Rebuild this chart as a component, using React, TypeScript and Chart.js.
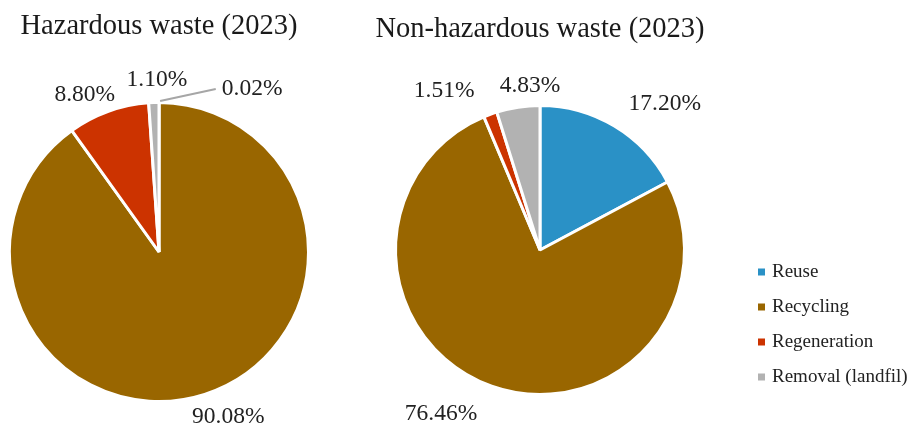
import React, { useEffect, useRef } from "react";
import { Chart, registerables } from "chart.js";

Chart.register(...registerables);

const categories = ["Reuse", "Recycling", "Regeneration", "Removal (landfil)"];
const hazardousValues = [0.02, 90.08, 8.8, 1.1];
const nonHazardousValues = [17.2, 76.46, 1.51, 4.83];
const chartTitles = ["Hazardous waste (2023)", "Non-hazardous waste (2023)"];
const sliceColors = ["#2A91C6", "#996600", "#CC3300", "#B2B2B2"];

const W = 914;
const H = 427;
const SERIF = '"Liberation Serif", "Times New Roman", serif';
const BORDER = 3;

type DecorCfg = {
  title: string;
  titleY: number;
  nudges: [number, number][];
  leaderIndex: number;
  legend: boolean;
};

function makeDecor(cfg: DecorCfg) {
  return {
    id: "pieDecor",
    afterDraw(chart: any) {
      const ctx: CanvasRenderingContext2D = chart.ctx;
      const meta = chart.getDatasetMeta(0);
      const values: number[] = chart.data.datasets[0].data;
      const cx = (chart.chartArea.left + chart.chartArea.right) / 2;
      ctx.save();
      // title
      ctx.fillStyle = "#1a1a1a";
      ctx.font = `28.5px ${SERIF}`;
      ctx.textAlign = "center";
      ctx.textBaseline = "alphabetic";
      ctx.fillText(cfg.title, cx, cfg.titleY);

      // labels
      const fs = 23.5;
      ctx.font = `${fs}px ${SERIF}`;
      ctx.textBaseline = "middle";
      meta.data.forEach((arc: any, i: number) => {
        const r = arc.outerRadius - BORDER / 2;
        const mid = (arc.startAngle + arc.endAngle) / 2;
        const ux = Math.cos(mid);
        const uy = Math.sin(mid);
        const text = values[i].toFixed(2) + "%";
        const tw = ctx.measureText(text).width;
        const hw = tw / 2;
        const hh = fs * 0.34;
        const d = 6;
        const off = hw * Math.abs(ux) + hh * Math.abs(uy);
        const [nx, ny] = cfg.nudges[i] || [0, 0];
        const tx = arc.x + (r + d) * ux + off * ux + nx;
        const ty = arc.y + (r + d) * uy + off * uy + ny;
        if (i === cfg.leaderIndex) {
          ctx.strokeStyle = "#A6A6A6";
          ctx.lineWidth = 2;
          ctx.beginPath();
          ctx.moveTo(arc.x + (r + 2) * ux + 1, arc.y + (r + 2) * uy - 1);
          ctx.lineTo(tx - hw - 6, ty + 0.5);
          ctx.stroke();
        }
        ctx.fillStyle = "#222";
        ctx.textAlign = "center";
        ctx.fillText(text, tx, ty);
      });

      // legend
      if (cfg.legend) {
        const lx = 758;
        const ly0 = 272;
        const step = 35;
        ctx.font = `19px ${SERIF}`;
        ctx.textAlign = "left";
        ctx.textBaseline = "middle";
        chart.data.labels.forEach((lab: string, i: number) => {
          const y = ly0 + i * step;
          ctx.fillStyle = (chart.data.datasets[0].backgroundColor as string[])[i];
          ctx.fillRect(lx, y - 3.5, 7, 7);
          ctx.fillStyle = "#222";
          ctx.fillText(lab, lx + 14, y + 0.5);
        });
      }
      ctx.restore();
    },
  };
}

function makeChart(
  canvas: HTMLCanvasElement,
  values: number[],
  center: [number, number],
  radius: number,
  cfg: DecorCfg
) {
  const [cx, cy] = center;
  const padLeft = Math.max(0, 2 * cx - W);
  const padRight = Math.max(0, W - 2 * cx);
  const padTop = Math.max(0, 2 * cy - H);
  const padBottom = Math.max(0, H - 2 * cy);
  return new Chart(canvas, {
    type: "pie",
    data: {
      labels: categories,
      datasets: [
        {
          data: values,
          backgroundColor: sliceColors,
          borderColor: "#ffffff",
          borderWidth: BORDER,
          radius: radius + BORDER / 2,
        } as any,
      ],
    },
    options: {
      animation: false,
      responsive: false,
      devicePixelRatio: 1,
      events: [],
      layout: {
        padding: { left: padLeft, right: padRight, top: padTop, bottom: padBottom },
      },
      plugins: {
        legend: { display: false },
        title: { display: false },
        tooltip: { enabled: false },
      },
    },
    plugins: [makeDecor(cfg)],
  });
}

export default function App() {
  const ref1 = useRef<HTMLCanvasElement>(null);
  const ref2 = useRef<HTMLCanvasElement>(null);

  useEffect(() => {
    if (!ref1.current || !ref2.current) return;
    const c1 = makeChart(ref1.current, hazardousValues, [159, 252], 148, {
      title: chartTitles[0],
      titleY: 34,
      nudges: [
        [93, -1.5],
        [16.5, 0],
        [-16, 4.5],
        [3.5, -9.5],
      ],
      leaderIndex: 0,
      legend: false,
    });
    const c2 = makeChart(ref2.current, nonHazardousValues, [540, 250], 143, {
      title: chartTitles[1],
      titleY: 37,
      nudges: [
        [35, 3.5],
        [-42.5, 5],
        [-38.5, -2],
        [14.5, -5],
      ],
      leaderIndex: -1,
      legend: true,
    });
    return () => {
      c1.destroy();
      c2.destroy();
    };
  }, []);

  return (
    <div
      style={{
        position: "fixed",
        left: 0,
        top: 0,
        width: W,
        height: H,
        background: "#ffffff",
        overflow: "hidden",
      }}
    >
      <canvas
        ref={ref1}
        width={W}
        height={H}
        style={{ position: "absolute", left: 0, top: 0, width: W, height: H }}
      />
      <canvas
        ref={ref2}
        width={W}
        height={H}
        style={{ position: "absolute", left: 0, top: 0, width: W, height: H }}
      />
    </div>
  );
}
